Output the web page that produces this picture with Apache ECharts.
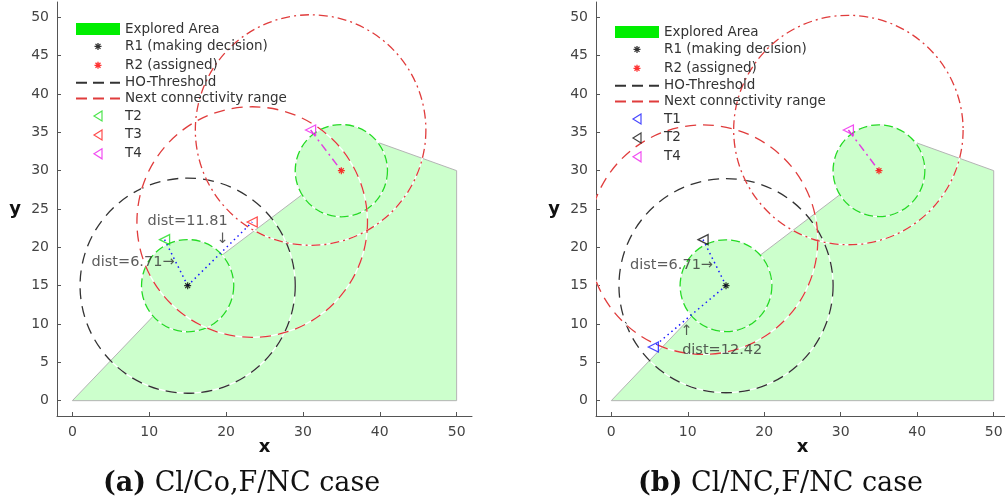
<!DOCTYPE html>
<html>
<head>
<meta charset="utf-8">
<script src="https://cdn.jsdelivr.net/npm/echarts@6/dist/echarts.min.js"></script>
<style>
	html, body { margin: 0; padding: 0; background: #fff; }
	#chart { width: 1005px; height: 504px; }
</style>
</head>
<body>
<div id="chart"></div>
<script>
// Ejes
const xTicks = [0, 10, 20, 30, 40, 50]
const yTicks = [0, 5, 10, 15, 20, 25, 30, 35, 40, 45, 50]

// Área explorada (igual en ambos casos)
const exploredPolygon = [[0, 0], [50, 0], [50, 30], [40, 33.6], [29.8, 26.8], [19.5, 19], [10.5, 11]]
const exploredDiscs = [[15, 15, 6], [35, 30, 6]]

// Robots y tareas
const r1 = [15, 15]
const r2 = [35, 30]
const t1 = [5.5, 7]
const t2 = [12, 21]
const t3 = [23.4, 23.3]
const t4 = [31, 35.3]

// Círculos [cx, cy, radio]
const hoThreshold = [[15, 15, 14]]
const nextRangeA = [[23.4, 23.3, 15]]
const nextRangeB = [[12, 21, 15]]
const t4Range = [[31, 35.3, 15]]

// Enlaces punteados
const linksA = [[r1, t2], [r1, t3]]
const linksB = [[r1, t2], [r1, t1]]

// Anotaciones
const notesA = [
	{ at: [13.3, 18.0], text: 'dist=6.71→', align: 'right' },
	{ at: [15.0, 23.4], text: 'dist=11.81', align: 'center' },
	{ at: [19.5, 21.0], text: '↓', align: 'center' },
]
const notesB = [
	{ at: [13.3, 17.7], text: 'dist=6.71→', align: 'right' },
	{ at: [9.8, 9.0], text: '↑', align: 'center' },
	{ at: [14.5, 6.6], text: 'dist=12.42', align: 'center' },
]

const FONT = 'DejaVu Sans'
const TXT = '#333'

// Iconos de leyenda (con margen para que queden pequeños)
const ICON_ASTERISK = 'path://M0,0M12,12M6,2.5L6,9.5M2.5,6L9.5,6M3.5,3.5L8.5,8.5M3.5,8.5L8.5,3.5'
const ICON_TRIANGLE = 'path://M0,0M12,12M10,1L2,6L10,11Z'

function areaSeries(panel, name) {
	return {
		name,
		type: 'custom',
		xAxisIndex: panel,
		yAxisIndex: panel,
		silent: true,
		itemStyle: { color: '#00ff00' },
		data: [[0, 0]],
		renderItem(params, api) {
			const children = [
				{
					type: 'polygon',
					shape: { points: exploredPolygon.map((p) => api.coord(p)) },
					style: { fill: '#ccffcc', stroke: '#b4b4b4', lineWidth: 1 },
				},
			]
			exploredDiscs.forEach((d) => {
				const c = api.coord([d[0], d[1]])
				const r = api.size([d[2], 0])[0]
				children.push({
					type: 'circle',
					shape: { cx: c[0], cy: c[1], r },
					style: { fill: '#ccffcc', stroke: '#c4c4c4', lineWidth: 1 },
				})
			})
			return { type: 'group', children }
		},
	}
}

function circleSeries(panel, data, color, dash) {
	return {
		type: 'custom',
		xAxisIndex: panel,
		yAxisIndex: panel,
		silent: true,
		clip: true,
		data,
		renderItem(params, api) {
			const c = api.coord([api.value(0), api.value(1)])
			const r = api.size([api.value(2), 0])[0]
			const shape = { cx: c[0], cy: c[1], r }
			return {
				type: 'group',
				children: [
					{ type: 'circle', shape, style: { fill: 'none', stroke: '#fff', lineWidth: 1.3 } },
					{ type: 'circle', shape, style: { fill: 'none', stroke: color, lineWidth: 1.3, lineDash: dash } },
				],
			}
		},
	}
}

// Serie vacía solo para la leyenda de líneas
function legendLine(panel, name, color, dash) {
	return {
		name,
		type: 'line',
		xAxisIndex: panel,
		yAxisIndex: panel,
		symbol: 'none',
		data: [],
		lineStyle: { color, width: 1.3, type: dash },
		itemStyle: { color: 'rgba(0,0,0,0)', borderWidth: 0 },
	}
}

function segment(panel, pts, color, dash) {
	return {
		type: 'line',
		xAxisIndex: panel,
		yAxisIndex: panel,
		symbol: 'none',
		silent: true,
		data: pts,
		lineStyle: { color, width: 1.5, type: dash },
		z: 3,
	}
}

const ASTERISK = 'path://M5,0L5,10M0,5L10,5M1.5,1.5L8.5,8.5M1.5,8.5L8.5,1.5'

function robot(panel, name, p, color) {
	return {
		name,
		type: 'scatter',
		xAxisIndex: panel,
		yAxisIndex: panel,
		symbol: ASTERISK,
		symbolSize: 7,
		data: [p],
		itemStyle: { color: 'none', borderColor: color, borderWidth: 1.2 },
		z: 5,
	}
}

function target(panel, name, p, color) {
	return {
		name,
		type: 'scatter',
		xAxisIndex: panel,
		yAxisIndex: panel,
		symbol: 'triangle',
		symbolRotate: 90,
		symbolSize: [10, 10],
		data: [p],
		itemStyle: { color: 'none', borderColor: color, borderWidth: 1.3 },
		z: 5,
	}
}

function notes(panel, list) {
	return {
		type: 'scatter',
		xAxisIndex: panel,
		yAxisIndex: panel,
		symbolSize: 0,
		silent: true,
		z: 6,
		data: list.map((n) => ({
			value: n.at,
			label: {
				show: true,
				position: 'inside',
				formatter: n.text,
				align: n.align,
				verticalAlign: 'middle',
				fontSize: 14.5,
				fontFamily: FONT,
				color: TXT,
			},
		})),
	}
}

function panelSeries(panel, sfx, nextRange, targets, links) {
	const s = [
		areaSeries(panel, 'Explored Area' + sfx),
		legendLine(panel, 'HO-Threshold' + sfx, '#333', [11, 6]),
		legendLine(panel, 'Next connectivity range' + sfx, '#e03c3c', [11, 6]),
		circleSeries(panel, exploredDiscs, '#22dd22', [9, 4]),
		circleSeries(panel, hoThreshold, '#333', [11, 7]),
		circleSeries(panel, nextRange, '#e03c3c', [11, 7]),
		circleSeries(panel, t4Range, '#e03c3c', [9, 4, 2, 4]),
	]
	links.forEach((l) => s.push(segment(panel, l, '#1a1aff', [1.5, 3.5])))
	s.push(segment(panel, [t4, r2], '#e040e0', [8, 4, 2, 4]))
	s.push(robot(panel, 'R1 (making decision)' + sfx, r1, '#000'))
	s.push(robot(panel, 'R2 (assigned)' + sfx, r2, '#ff0000'))
	targets.forEach((t) => s.push(target(panel, t.name + sfx, t.p, t.color)))
	s.push(notes(panel, panel === 0 ? notesA : notesB))
	return s
}

const targetsA = [
	{ name: 'T2', p: t2, color: '#22dd22' },
	{ name: 'T3', p: t3, color: '#ff2020' },
	{ name: 'T4', p: t4, color: '#ee22ee' },
]
const targetsB = [
	{ name: 'T1', p: t1, color: '#1a1aff' },
	{ name: 'T2', p: t2, color: '#111' },
	{ name: 'T4', p: t4, color: '#ee22ee' },
]

function axisX(panel) {
	return {
		type: 'value',
		gridIndex: panel,
		min: -2,
		max: 52,
		name: 'x',
		nameLocation: 'middle',
		nameGap: 22,
		nameMoveOverlap: false,
		nameTextStyle: { fontFamily: FONT, fontSize: 18, fontWeight: 'bold', color: '#111' },
		axisLine: { show: true, onZero: false, lineStyle: { color: '#555', width: 1 } },
		axisTick: { show: true, inside: true, length: 4, customValues: xTicks, lineStyle: { color: '#555' } },
		axisLabel: { customValues: xTicks, margin: 9, fontFamily: FONT, fontSize: 14, color: '#444' },
		splitLine: { show: false },
	}
}

function axisY(panel) {
	return {
		type: 'value',
		gridIndex: panel,
		min: -2,
		max: 52,
		name: 'y',
		nameLocation: 'middle',
		nameRotate: 0,
		nameGap: 36,
		nameMoveOverlap: false,
		nameTextStyle: { fontFamily: FONT, fontSize: 18, fontWeight: 'bold', color: '#111' },
		axisLine: { show: true, onZero: false, lineStyle: { color: '#555', width: 1 } },
		axisTick: { show: true, inside: true, length: 4, customValues: yTicks, lineStyle: { color: '#555' } },
		axisLabel: { customValues: yTicks, margin: 8, fontFamily: FONT, fontSize: 14, color: '#444' },
		splitLine: { show: false },
	}
}

function legendFor(left, top, sfx, targets) {
	const thin = { borderWidth: 1.3 }
	return {
		orient: 'vertical',
		left,
		top,
		padding: 0,
		itemWidth: 44,
		itemHeight: 12,
		itemGap: 1.9,
		selectedMode: false,
		textStyle: { fontFamily: FONT, fontSize: 13.5, color: TXT, lineHeight: 13 },
		formatter: (name) => name.split('|')[0],
		data: [
			{ name: 'Explored Area' + sfx, icon: 'rect', itemStyle: { color: '#00ee00', borderWidth: 0 } },
			{ name: 'R1 (making decision)' + sfx, icon: ICON_ASTERISK, itemStyle: thin },
			{ name: 'R2 (assigned)' + sfx, icon: ICON_ASTERISK, itemStyle: thin },
			'HO-Threshold' + sfx,
			'Next connectivity range' + sfx,
			...targets.map((t) => ({ name: t.name + sfx, icon: ICON_TRIANGLE, itemStyle: { borderWidth: 1.2 } })),
		],
	}
}

const chart = echarts.init(document.getElementById('chart'))
chart.setOption({
	animation: false,
	backgroundColor: '#fff',
	grid: [
		{ left: 57, top: 2, width: 415, height: 414, outerBoundsMode: 'none' },
		{ left: 596, top: 2, width: 413, height: 414, outerBoundsMode: 'none' },
	],
	xAxis: [axisX(0), axisX(1)],
	yAxis: [axisY(0), axisY(1)],
	legend: [legendFor(75, 22, '', targetsA), legendFor(614, 25, '|b', targetsB)],
	graphic: [
		{
			type: 'text',
			left: 103,
			top: 470,
			style: {
				text: '{b|(a)} Cl/Co,F/NC case',
				font: '27px "DejaVu Serif"',
				fill: '#111',
				rich: { b: { fontWeight: 'bold', fontSize: 27, fontFamily: 'DejaVu Serif' } },
			},
		},
		{
			type: 'text',
			left: 638,
			top: 470,
			style: {
				text: '{b|(b)} Cl/NC,F/NC case',
				font: '27px "DejaVu Serif"',
				fill: '#111',
				rich: { b: { fontWeight: 'bold', fontSize: 27, fontFamily: 'DejaVu Serif' } },
			},
		},
	],
	series: [
		...panelSeries(0, '', nextRangeA, targetsA, linksA),
		...panelSeries(1, '|b', nextRangeB, targetsB, linksB),
	],
})
</script>
</body>
</html>
